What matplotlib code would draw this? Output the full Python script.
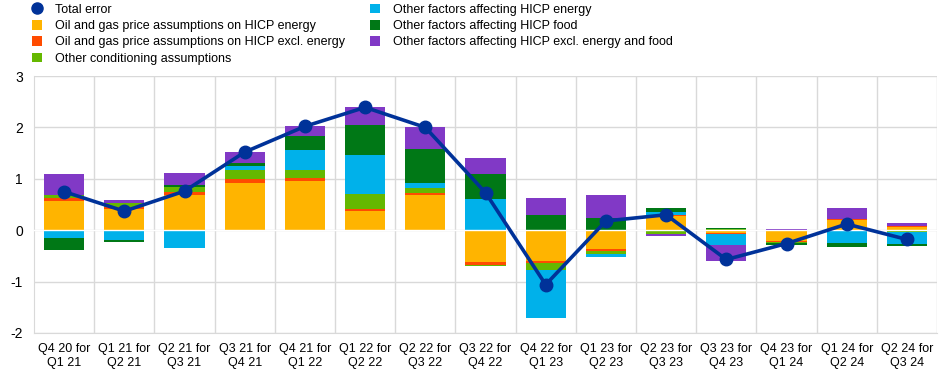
import numpy as np
import matplotlib
matplotlib.use("Agg")
from matplotlib import pyplot as plt
from matplotlib.patches import Patch
from matplotlib.lines import Line2D

plt.rcParams['font.family'] = ['Liberation Sans', 'DejaVu Sans']

labels = ['Q4 20 for\nQ1 21', 'Q1 21 for\nQ2 21', 'Q2 21 for\nQ3 21', 'Q3 21 for\nQ4 21',
          'Q4 21 for\nQ1 22', 'Q1 22 for\nQ2 22', 'Q2 22 for\nQ3 22', 'Q3 22 for\nQ4 22',
          'Q4 22 for\nQ1 23', 'Q1 23 for\nQ2 23', 'Q2 23 for\nQ3 23', 'Q3 23 for\nQ4 23',
          'Q4 23 for\nQ1 24', 'Q1 24 for\nQ2 24', 'Q2 24 for\nQ3 24']

oil_energy   = [0.57, 0.41, 0.69, 0.92, 0.96, 0.37, 0.69, -0.61, -0.59, -0.37, 0.28, -0.06, -0.21, 0.20, 0.07]
oil_excl     = [0.06, 0.05, 0.06, 0.08, 0.06, 0.05, 0.04, -0.06, -0.05, -0.03, 0.02, -0.01, -0.02, 0.02, 0.02]
other_cond   = [0.06, 0.07, 0.10, 0.18, 0.16, 0.29, 0.10, -0.02, -0.14, -0.07, -0.07, 0.02, -0.01, 0.00, -0.04]
energy_other = [-0.16, -0.20, -0.35, 0.06, 0.39, 0.75, 0.08, 0.61, -0.92, -0.06, 0.06, -0.22, 0.00, -0.24, -0.23]
food_other   = [-0.22, -0.02, 0.02, 0.06, 0.27, 0.59, 0.67, 0.49, 0.29, 0.24, 0.07, 0.02, -0.05, -0.08, -0.04]
core_other   = [0.41, 0.06, 0.24, 0.22, 0.18, 0.35, 0.43, 0.31, 0.33, 0.45, -0.05, -0.31, 0.02, 0.22, 0.05]
total_error  = [0.75, 0.37, 0.76, 1.52, 2.02, 2.39, 2.00, 0.73, -1.06, 0.18, 0.30, -0.57, -0.26, 0.12, -0.18]

series = [
    ('Oil and gas price assumptions on HICP energy', oil_energy, '#ffb400'),
    ('Oil and gas price assumptions on HICP excl. energy', oil_excl, '#ff4b00'),
    ('Other conditioning assumptions', other_cond, '#65b800'),
    ('Other factors affecting HICP energy', energy_other, '#00b1ea'),
    ('Other factors affecting HICP food', food_other, '#007816'),
    ('Other factors affecting HICP excl. energy and food', core_other, '#8139c6'),
]
line_col = '#003299'
grid_col = '#d9d9d9'

fig = plt.figure(figsize=(9.45, 3.72), dpi=100)
ax = fig.add_axes([34 / 945, 39 / 372, 903 / 945, 257 / 372])

x = np.arange(len(labels))
pos_base = np.zeros(len(x))
neg_base = np.zeros(len(x))
for name, vals, col in series:
    v = np.array(vals)
    pos = np.where(v > 0, v, 0)
    neg = np.where(v < 0, v, 0)
    ax.bar(x, pos, 0.67, bottom=pos_base, color=col, zorder=2)
    ax.bar(x, neg, 0.67, bottom=neg_base, color=col, zorder=2)
    pos_base += pos
    neg_base += neg

ax.plot(x, total_error, color=line_col, lw=2.6, marker='o', ms=9, zorder=4)

ax.set_xlim(-0.5, len(x) - 0.5)
ax.set_ylim(-2, 3)
ax.set_yticks([-2, -1, 0, 1, 2, 3])
ax.set_yticklabels(['-2', '-1', '0', '1', '2', '3'], fontsize=10)
ax.set_xticks(x)
ax.set_xticklabels(labels, fontsize=9, linespacing=1.3)
ax.set_xticks(np.arange(0.5, len(x), 1), minor=True)
ax.tick_params(axis='both', which='both', length=0)
ax.tick_params(axis='y', pad=8)
ax.tick_params(axis='x', pad=7)
ax.grid(axis='y', which='major', color=grid_col, lw=1, zorder=0)
ax.grid(axis='x', which='minor', color=grid_col, lw=1, zorder=0)
ax.grid(axis='x', which='major', visible=False)
ax.axhline(0, color='white', lw=1, zorder=3)
for s in ['top', 'right']:
    ax.spines[s].set_visible(False)
for s in ['left', 'bottom']:
    ax.spines[s].set_color(grid_col)

handles = [Line2D([], [], color=line_col, marker='o', ls='none', ms=8)]
handles += [Patch(facecolor=c, edgecolor='none') for _, _, c in series]
names = ['Total error'] + [n for n, _, _ in series]
fig.legend(handles, names, ncol=2, loc='upper left', bbox_to_anchor=(0.022, 1.02),
           frameon=False, fontsize=9, handlelength=0.8, handleheight=0.8,
           handletextpad=1.05, labelspacing=0.33, columnspacing=2.0)

fig.savefig('out.png', dpi=100)
